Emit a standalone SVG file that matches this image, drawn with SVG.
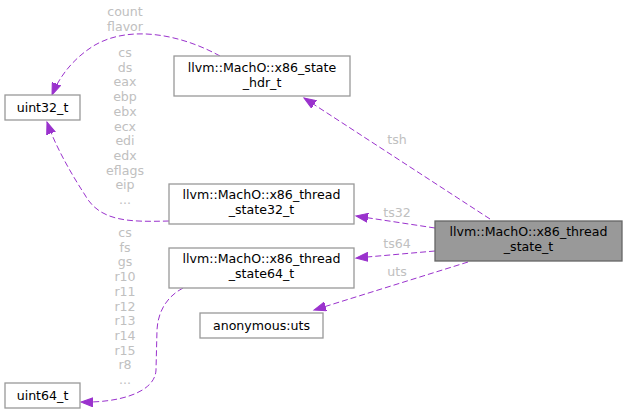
<svg xmlns="http://www.w3.org/2000/svg" width="627" height="414" viewBox="0 0 627 414">
<defs>
<style>
.n{fill:#fff;stroke:#999;stroke-width:1.3}
.t{font-family:"DejaVu Sans",sans-serif;font-size:12.6px;fill:#000;text-anchor:middle}
.l{font-family:"DejaVu Sans",sans-serif;font-size:12.6px;fill:#c0c0c0;text-anchor:middle}
.e{fill:none;stroke:#9a32cd;stroke-width:1;stroke-dasharray:6,3}
</style>
<marker id="a" markerUnits="userSpaceOnUse" markerWidth="14" markerHeight="10" refX="12" refY="5" orient="auto">
<path d="M0,0.5 L12,5 L0,9.5 Z" fill="#9a32cd" stroke="#9a32cd"/>
</marker>
</defs>
<rect width="627" height="414" fill="#fff"/>
<g id="edges">
<path class="e" d="M490,219 L304,98" marker-end="url(#a)"/>
<path class="e" d="M435,228 L356,216" marker-end="url(#a)"/>
<path class="e" d="M435,251 L356,258" marker-end="url(#a)"/>
<path class="e" d="M468,262 L314,310" marker-end="url(#a)"/>
<path class="e" d="M220,56 C180,34 130,25 95,45 C75,57 60,75 52,95" marker-end="url(#a)"/>
<path class="e" d="M169,221 C130,222 100,222 85,195 C70,172 55,145 47,122" marker-end="url(#a)"/>
<path class="e" d="M183,288 C168,296 158,310 157,330 L156,370 C155,394 115,403 81,402" marker-end="url(#a)"/>
<text class="l" x="397" y="144">tsh</text>
<text class="l" x="397" y="217">ts32</text>
<text class="l" x="397" y="248">ts64</text>
<text class="l" x="397" y="276">uts</text>
<text class="l" x="125" y="16">count</text>
<text class="l" x="125" y="31">flavor</text>
<text class="l" x="125" y="57">cs</text>
<text class="l" x="125" y="71.7">ds</text>
<text class="l" x="125" y="86.4">eax</text>
<text class="l" x="125" y="101.1">ebp</text>
<text class="l" x="125" y="115.8">ebx</text>
<text class="l" x="125" y="130.5">ecx</text>
<text class="l" x="125" y="145.2">edi</text>
<text class="l" x="125" y="159.9">edx</text>
<text class="l" x="125" y="174.6">eflags</text>
<text class="l" x="125" y="189.3">eip</text>
<text class="l" x="125" y="204">...</text>
<text class="l" x="125" y="237">cs</text>
<text class="l" x="125" y="251.7">fs</text>
<text class="l" x="125" y="266.4">gs</text>
<text class="l" x="125" y="281.1">r10</text>
<text class="l" x="125" y="295.8">r11</text>
<text class="l" x="125" y="310.5">r12</text>
<text class="l" x="125" y="325.2">r13</text>
<text class="l" x="125" y="339.9">r14</text>
<text class="l" x="125" y="354.6">r15</text>
<text class="l" x="125" y="369.3">r8</text>
<text class="l" x="125" y="384">...</text>
</g>
<g id="uint32_t"><rect class="n" x="5" y="95" width="75" height="25"/><text class="t" x="42.5" y="112">uint32_t</text></g>
<g id="state_hdr"><rect class="n" x="174" y="56" width="176" height="40"/><text class="t" x="262" y="72">llvm::MachO::x86_state</text><text class="t" x="262" y="87">_hdr_t</text></g>
<g id="thread_state32"><rect class="n" x="169" y="184" width="185" height="40"/><text class="t" x="261.5" y="199">llvm::MachO::x86_thread</text><text class="t" x="261.5" y="214">_state32_t</text></g>
<g id="thread_state64"><rect class="n" x="169" y="248" width="185" height="40"/><text class="t" x="261.5" y="263">llvm::MachO::x86_thread</text><text class="t" x="261.5" y="278">_state64_t</text></g>
<g id="uts"><rect class="n" x="200" y="313" width="123" height="25"/><text class="t" x="261.5" y="330">anonymous:uts</text></g>
<g id="thread_state"><rect x="435" y="221" width="187" height="40" fill="#999" stroke="#666" stroke-width="1.3"/><text class="t" x="528.5" y="236">llvm::MachO::x86_thread</text><text class="t" x="528.5" y="251">_state_t</text></g>
<g id="uint64_t"><rect class="n" x="5" y="383" width="75" height="25"/><text class="t" x="42.5" y="400">uint64_t</text></g>
</svg>
